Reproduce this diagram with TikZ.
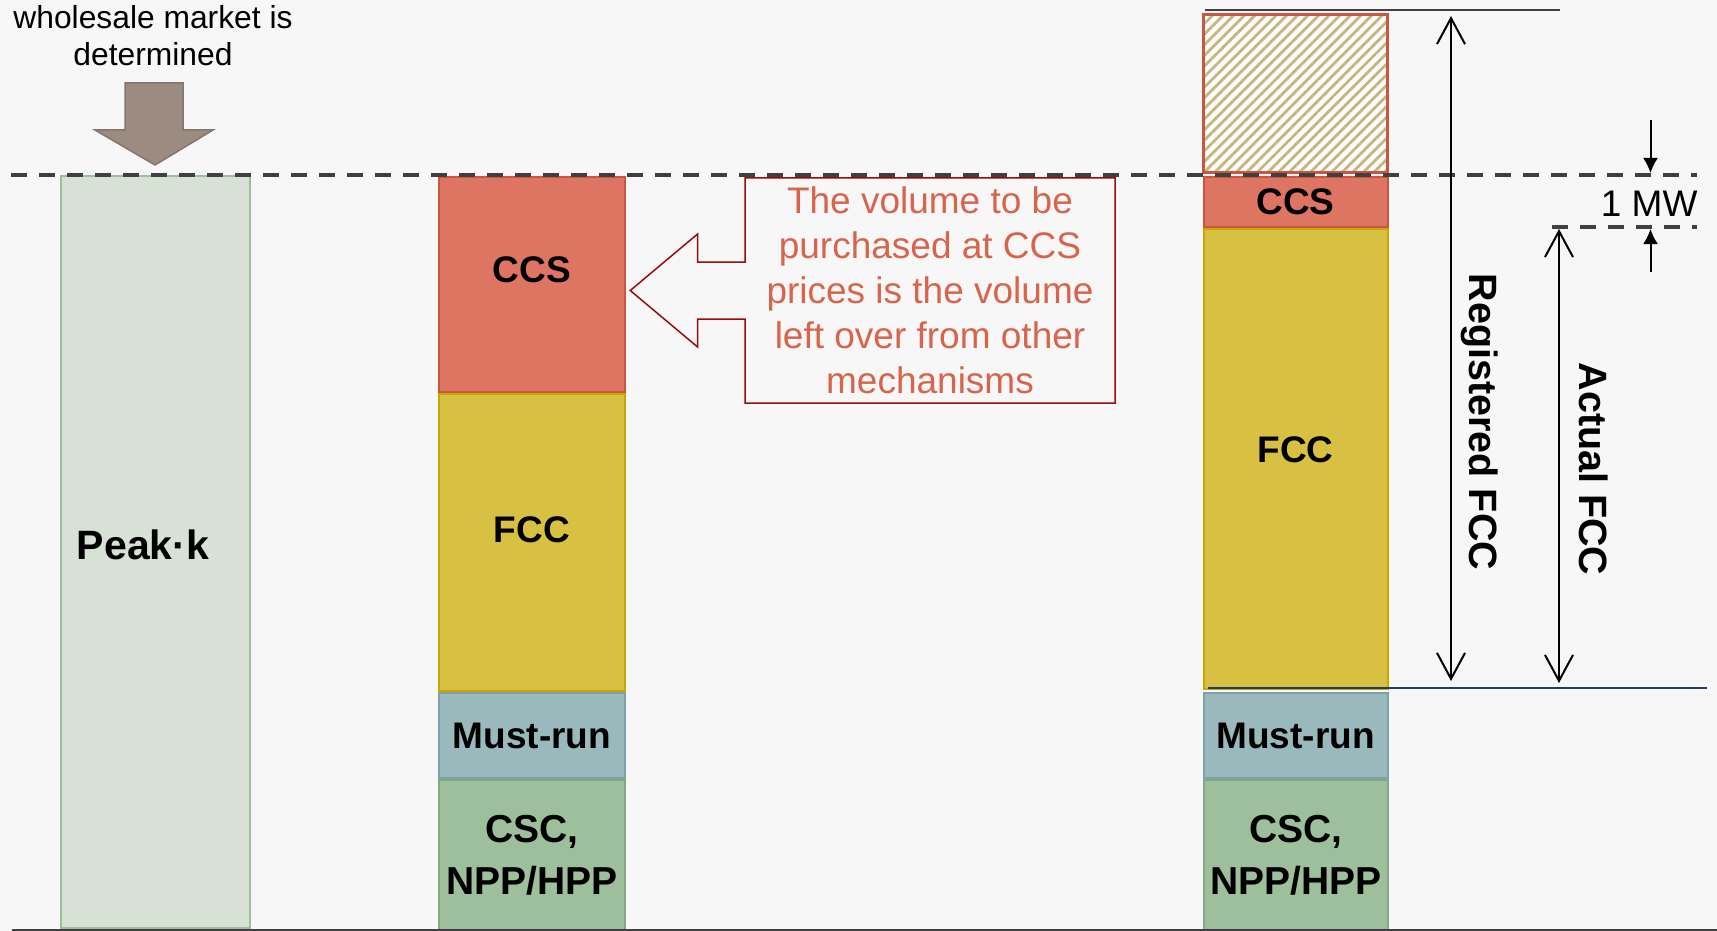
\documentclass[tikz,border=0pt]{standalone}
\usepackage{fontspec}
\setmainfont{Liberation Sans}
\usepackage{tikz}
\usetikzlibrary{arrows.meta, positioning, shapes.arrows, patterns.meta}

\definecolor{bgcol}{HTML}{F7F7F7}
\definecolor{ccscol}{HTML}{DE7462}
\definecolor{ccsline}{HTML}{C85641}
\definecolor{fcccol}{HTML}{D8C043}
\definecolor{fccline}{HTML}{C8A800}
\definecolor{mustcol}{HTML}{9AB9BC}
\definecolor{mustline}{HTML}{7FA1A5}
\definecolor{csccol}{HTML}{9EBF9B}
\definecolor{cscline}{HTML}{86A783}
\definecolor{peakcol}{HTML}{D7E1D6}
\definecolor{peakline}{HTML}{9CBF99}
\definecolor{dashcol}{HTML}{404040}
\definecolor{notecol}{HTML}{D9644C}
\definecolor{noteline}{HTML}{9B0A0A}
\definecolor{downcol}{HTML}{9C8B80}
\definecolor{downline}{HTML}{85756A}
\definecolor{hatchcol}{HTML}{C9B47E}
\definecolor{levelcol}{HTML}{1F3C64}

\begin{document}
\begin{tikzpicture}[x=1pt, y=-1pt,
    seg/.style = {draw, rectangle, line width=2pt, inner sep=0pt, align=center,
                  font=\fontsize{37}{52}\selectfont\bfseries},
    midbar/.style = {seg, minimum width=186pt},
    rightbar/.style = {seg, minimum width=184pt},
    ccs/.style = {fill=ccscol, draw=ccsline},
    fcc/.style = {fill=fcccol, draw=fccline},
    must/.style = {fill=mustcol, draw=mustline},
    csc/.style = {fill=csccol, draw=cscline},
    dim/.style = {line width=2pt, {Straight Barb[length=26pt,width=28pt]}-{Straight Barb[length=26pt,width=28pt]}},
    small/.style = {line width=2pt, -{Latex[length=15pt,width=15pt]}},
    vlabel/.style = {font=\fontsize{39.5}{40}\selectfont\bfseries, rotate=-90},
    level/.style = {dashcol, line width=4pt, dash pattern=on 16pt off 12pt}]

    \useasboundingbox (0,0) rectangle (1717,931);
    \fill[bgcol] (0,0) rectangle (1717,931);

    % peak column
    \node[seg, fill=peakcol, draw=peakline, minimum width=189pt, minimum height=752pt] (peak) at (155.5,552) {};
    \node[font=\fontsize{41}{41}\selectfont\bfseries] (peaklbl) at (143,545) {Peak·k};
    \node[align=center, font=\fontsize{31.8}{37}\selectfont] (wholesale) at (153,36) {wholesale market is\\determined};
    \draw[downline, fill=downcol, line width=1.5pt] (125,83) -- (183,83) -- (183,130) -- (213,130)
        -- (155,165) -- (95,130) -- (125,130) -- cycle;

    % middle column
    \node[midbar, ccs, minimum height=215pt, anchor=north, text depth=30pt] (ccsA) at (532,176) {CCS};
    \node[midbar, fcc, minimum height=297pt, text depth=26pt] (fccA) [below=0pt of ccsA] {FCC};
    \node[midbar, must, minimum height=85pt] (mustA) [below=0pt of fccA] {Must-run};
    \node[midbar, csc, minimum height=150pt, font=\fontsize{39}{52}\selectfont\bfseries] (cscA) [below=0pt of mustA] {CSC,\\NPP/HPP};

    % note
    \node[arrow box, draw=noteline, line width=1.5pt, fill=bgcol, text=notecol,
          arrow box arrows={west:114pt}, arrow box shaft width=57pt,
          arrow box head extend=28pt, arrow box tip angle=80,
          minimum width=370pt, minimum height=225pt, align=center,
          font=\fontsize{37}{45}\selectfont] (note) at (930,290.5)
        {The volume to be\\purchased at CCS\\prices is the volume\\left over from other\\mechanisms};

    % right column
    \node[seg, minimum width=184pt, minimum height=158pt, draw=ccsline, line width=3.5pt,
          preaction={fill=white}, pattern={Lines[angle=45, distance=7.5pt, line width=2.8pt]},
          pattern color=hatchcol, anchor=north] (spare) at (1295.6,13) {};
    \node[rightbar, ccs, minimum height=50pt, anchor=north] (ccsB) at (1295.6,176) {CCS};
    \node[rightbar, fcc, minimum height=460pt, text depth=18pt] (fccB) [below=0pt of ccsB] {FCC};
    \node[rightbar, must, minimum height=85pt] (mustB) [below=2pt of fccB] {Must-run};
    \node[rightbar, csc, minimum height=150pt, font=\fontsize{39}{52}\selectfont\bfseries] (cscB) [below=0pt of mustB] {CSC,\\NPP/HPP};

    % levels
    \draw[level] (11,175) -- (1697,175);
    \draw[level] (1552,227) -- (1697,227);
    \draw[dashcol, line width=3pt] (12,930) -- (1717,930);
    \draw[dashcol, line width=2.5pt] (1205,10) -- (1560,10);
    \draw[levelcol, line width=2.5pt] (1208,688) -- (1707,688);

    % dimensions
    \coordinate (regtop) at (1451,16);
    \coordinate (regbot) at (1451,681);
    \coordinate (acttop) at (1559,229);
    \coordinate (actbot) at (1559,683);
    \draw[dim] (regtop) -- (regbot);
    \draw[dim] (acttop) -- (actbot);
    \node[vlabel] (reglbl) at (1480,422) {Registered FCC};
    \node[vlabel] (actlbl) at (1594,469) {Actual FCC};

    \coordinate (mwtop) at (1650.5,120);
    \coordinate (mwbot) at (1650.5,272);
    \draw[small] (mwtop) -- (1650.5,173);
    \draw[small] (mwbot) -- (1650.5,229);
    \node[anchor=east, font=\fontsize{37}{37}\selectfont] (mw) at (1701,204) {1 MW};
\end{tikzpicture}
\end{document}
